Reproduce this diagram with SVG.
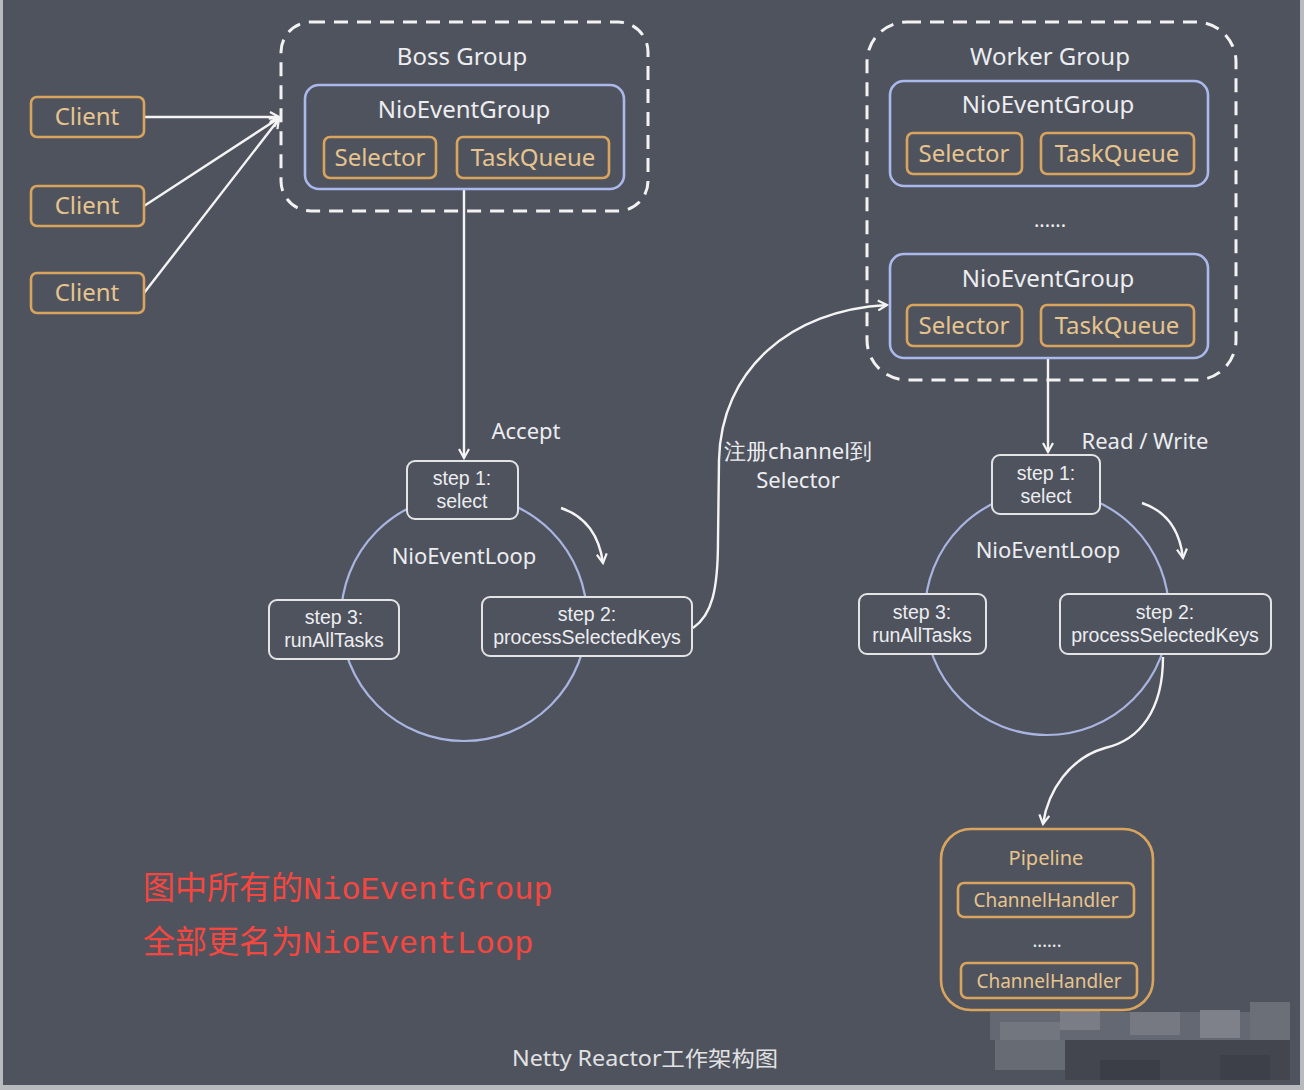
<svg xmlns="http://www.w3.org/2000/svg" width="1304" height="1090" viewBox="0 0 1304 1090">
<style>
.t{font-family:"Noto Sans","Open Sans",sans-serif;fill:#ecedf0;text-anchor:middle}
.s{font-family:"Liberation Sans",Arial,sans-serif;fill:#ecedf0;text-anchor:middle;font-size:19.5px}
.o{font-family:"Noto Sans","Open Sans",sans-serif;fill:#e6c48e;text-anchor:middle}
.ob{fill:none;stroke:#d9a55e;stroke-width:2.6}
.bb{fill:none;stroke:#aab8ec;stroke-width:2.6}
.dash{fill:none;stroke:#f2f2f2;stroke-width:3;stroke-dasharray:14 9}
.sb{fill:#4f535e;stroke:#e4e4e6;stroke-width:2}
.ring{fill:none;stroke:#a9b5e0;stroke-width:2.2}
.ln{fill:none;stroke:#f4f4f4;stroke-width:2.4}
.red{font-family:"Liberation Mono","Noto Sans CJK SC",monospace;fill:#f5473f;font-size:32px}
</style>
<defs>
<marker id="ah" viewBox="0 0 12 12" refX="10" refY="6" markerWidth="12" markerHeight="12" markerUnits="userSpaceOnUse" orient="auto">
<path d="M1,1 L10,6 L1,11" fill="none" stroke="#f4f4f4" stroke-width="2.2"/>
</marker>
</defs>
<rect x="0" y="0" width="1304" height="1090" fill="#b9babd"/>
<rect x="3" y="0" width="1297" height="1085" fill="#4f535e"/>

<g id="mosaic">
<rect x="990" y="1012" width="300" height="28" fill="#646872"/>
<rect x="1000" y="1022" width="60" height="38" fill="#72767f"/>
<rect x="1060" y="1010" width="40" height="20" fill="#7a7d86"/>
<rect x="1130" y="1012" width="50" height="23" fill="#767982"/>
<rect x="1200" y="1010" width="40" height="28" fill="#7e818a"/>
<rect x="1250" y="1002" width="40" height="38" fill="#6b6f78"/>
<rect x="1065" y="1040" width="225" height="40" fill="#43464f"/>
<rect x="995" y="1040" width="70" height="30" fill="#676b74"/>
<rect x="1100" y="1060" width="60" height="20" fill="#3b3e46"/>
<rect x="1220" y="1055" width="50" height="25" fill="#3d4048"/>
</g>

<g id="connectors">
<path class="ln" d="M144,117 L279,117" marker-end="url(#ah)"/>
<path class="ln" d="M144,206 L279,118" marker-end="url(#ah)"/>
<path class="ln" d="M144,293 L279,119" marker-end="url(#ah)"/>
<path class="ln" d="M464,189 L464,458" marker-end="url(#ah)"/>
<path class="ln" d="M1048,358 L1048,452" marker-end="url(#ah)"/>
<path class="ln" d="M693,628 C712,615 718,590 718,540 L719,460 C721,370 790,310 887,305" marker-end="url(#ah)"/>
<path class="ln" d="M1163,657 C1163,710 1140,740 1105,748 C1070,758 1048,790 1043,824" marker-end="url(#ah)"/>
<path class="ln" d="M561,508 Q597,520 603,563" marker-end="url(#ah)"/>
<path class="ln" d="M1142,503 Q1178,515 1183,558" marker-end="url(#ah)"/>
</g>

<g id="clients">
<g id="client1"><rect class="ob" x="31" y="97" width="113" height="40" rx="6"/><text class="o" x="87" y="125" font-size="24">Client</text></g>
<g id="client2"><rect class="ob" x="31" y="186" width="113" height="40" rx="6"/><text class="o" x="87" y="214" font-size="24">Client</text></g>
<g id="client3"><rect class="ob" x="31" y="273" width="113" height="40" rx="6"/><text class="o" x="87" y="301" font-size="24">Client</text></g>
</g>

<g id="boss-group">
<rect class="dash" x="281" y="22" width="367" height="189" rx="30"/>
<text class="t" x="462" y="65" font-size="24">Boss Group</text>
<g id="boss-neg">
<rect class="bb" x="305" y="85" width="319" height="104" rx="14"/>
<text class="t" x="464" y="118" font-size="24">NioEventGroup</text>
<rect class="ob" x="324" y="137" width="112" height="41" rx="6"/>
<text class="o" x="380" y="166" font-size="24">Selector</text>
<rect class="ob" x="457" y="137" width="152" height="41" rx="6"/>
<text class="o" x="533" y="166" font-size="24">TaskQueue</text>
</g>
</g>

<g id="worker-group">
<rect class="dash" x="867" y="22" width="369" height="358" rx="40"/>
<text class="t" x="1050" y="65" font-size="24">Worker Group</text>
<g id="worker-neg1">
<rect class="bb" x="890" y="81" width="318" height="105" rx="14"/>
<text class="t" x="1048" y="113" font-size="24">NioEventGroup</text>
<rect class="ob" x="907" y="133" width="115" height="41" rx="6"/>
<text class="o" x="964" y="162" font-size="24">Selector</text>
<rect class="ob" x="1041" y="133" width="153" height="41" rx="6"/>
<text class="o" x="1117" y="162" font-size="24">TaskQueue</text>
</g>
<text class="t" x="1050" y="227" font-size="20">......</text>
<g id="worker-neg2">
<rect class="bb" x="890" y="254" width="318" height="104" rx="14"/>
<text class="t" x="1048" y="287" font-size="24">NioEventGroup</text>
<rect class="ob" x="907" y="305" width="115" height="41" rx="6"/>
<text class="o" x="964" y="334" font-size="24">Selector</text>
<rect class="ob" x="1041" y="305" width="153" height="41" rx="6"/>
<text class="o" x="1117" y="334" font-size="24">TaskQueue</text>
</g>
</g>

<g id="boss-loop">
<circle class="ring" cx="464" cy="618" r="123"/>
<text class="t" x="464" y="564" font-size="22">NioEventLoop</text>
<text class="t" x="526" y="439" font-size="22">Accept</text>
<g id="boss-step1"><rect class="sb" x="407" y="461" width="111" height="58" rx="8"/><text class="s" x="462" y="485">step 1:</text><text class="s" x="462" y="508">select</text></g>
<g id="boss-step3"><rect class="sb" x="269" y="600" width="130" height="59" rx="8"/><text class="s" x="334" y="624">step 3:</text><text class="s" x="334" y="647">runAllTasks</text></g>
<g id="boss-step2"><rect class="sb" x="482" y="597" width="210" height="59" rx="8"/><text class="s" x="587" y="621">step 2:</text><text class="s" x="587" y="644">processSelectedKeys</text></g>
</g>

<g id="register-label">
<text class="t" x="798" y="459" font-size="22">注册channel到</text>
<text class="t" x="798" y="488" font-size="22">Selector</text>
</g>

<g id="worker-loop">
<circle class="ring" cx="1047" cy="613" r="122"/>
<text class="t" x="1048" y="558" font-size="22">NioEventLoop</text>
<text class="t" x="1145" y="449" font-size="22">Read / Write</text>
<g id="worker-step1"><rect class="sb" x="992" y="455" width="108" height="59" rx="8"/><text class="s" x="1046" y="480">step 1:</text><text class="s" x="1046" y="503">select</text></g>
<g id="worker-step3"><rect class="sb" x="859" y="594" width="127" height="60" rx="8"/><text class="s" x="922" y="619">step 3:</text><text class="s" x="922" y="642">runAllTasks</text></g>
<g id="worker-step2"><rect class="sb" x="1060" y="594" width="211" height="60" rx="8"/><text class="s" x="1165" y="619">step 2:</text><text class="s" x="1165" y="642">processSelectedKeys</text></g>
</g>

<g id="pipeline">
<rect class="ob" x="941" y="829" width="212" height="181" rx="30" stroke-width="3"/>
<text class="o" x="1046" y="865" font-size="20">Pipeline</text>
<rect class="ob" x="958" y="883" width="176" height="34" rx="6"/>
<text class="o" x="1046" y="907" font-size="19">ChannelHandler</text>
<text class="t" x="1047" y="947" font-size="18">......</text>
<rect class="ob" x="961" y="963" width="176" height="35" rx="6"/>
<text class="o" x="1049" y="988" font-size="19">ChannelHandler</text>
</g>

<g id="note">
<text class="red" x="143" y="899">图中所有的NioEventGroup</text>
<text class="red" x="143" y="953">全部更名为NioEventLoop</text>
</g>

<text x="512" y="1066" font-size="21" fill="#e2e2e4" textLength="266" lengthAdjust="spacingAndGlyphs" style="font-family:'Noto Sans','Noto Sans CJK SC',sans-serif">Netty Reactor工作架构图</text>
</svg>
